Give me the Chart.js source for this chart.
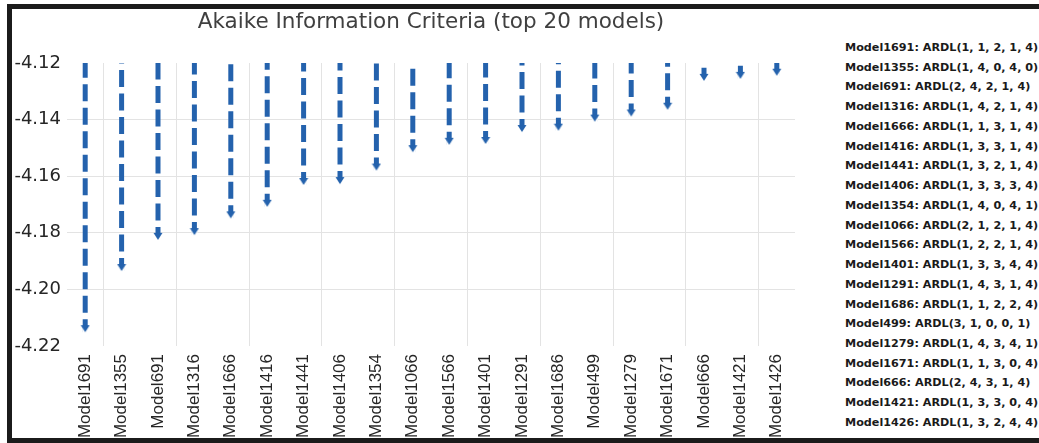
<!DOCTYPE html>
<html><head><meta charset="utf-8">
<script src="https://cdn.jsdelivr.net/npm/chart.js@4.4.1/dist/chart.umd.min.js"></script>
<style>
html,body{margin:0;padding:0;background:#fff;width:1039px;height:443px;overflow:hidden;position:relative}
#frame{position:absolute;left:7px;top:4px;width:1100px;height:429px;border:5px solid #1b1b1b;border-right:none;box-sizing:content-box}
#wrap{position:absolute;left:0;top:0;width:820px;height:443px}
#notes{position:absolute;left:845px;top:38px;font:bold 11.2px 'DejaVu Sans',sans-serif;color:#1a1a1a;line-height:19.74px;white-space:nowrap}
</style></head><body>
<div id="frame"></div>
<div id="wrap"><canvas id="c"></canvas></div>
<div id="notes"></div>
<script>
const chartTitle = 'Akaike Information Criteria (top 20 models)';
const models = ['Model1691','Model1355','Model691','Model1316','Model1666','Model1416','Model1441','Model1406','Model1354','Model1066',
                'Model1566','Model1401','Model1291','Model1686','Model499','Model1279','Model1671','Model666','Model1421','Model1426'];
const aicValues = [-4.2151,-4.1935,-4.1825,-4.1808,-4.1749,-4.1708,-4.1631,-4.1628,-4.1580,-4.1515,
                   -4.1489,-4.1486,-4.1444,-4.1439,-4.1407,-4.1389,-4.1365,-4.1263,-4.1256,-4.1245];
const ardlSpecs = ['1, 1, 2, 1, 4','1, 4, 0, 4, 0','2, 4, 2, 1, 4','1, 4, 2, 1, 4','1, 1, 3, 1, 4','1, 3, 3, 1, 4','1, 3, 2, 1, 4','1, 3, 3, 3, 4','1, 4, 0, 4, 1','2, 1, 2, 1, 4',
                   '1, 2, 2, 1, 4','1, 3, 3, 4, 4','1, 4, 3, 1, 4','1, 1, 2, 2, 4','3, 1, 0, 0, 1','1, 4, 3, 4, 1','1, 1, 3, 0, 4','2, 4, 3, 1, 4','1, 3, 3, 0, 4','1, 3, 2, 4, 4'];
const yTickValues = [-4.22,-4.20,-4.18,-4.16,-4.14,-4.12];

const BLUE = '#2462AD';
const GRID = '#e3e3e3';
const yTop = yTickValues[yTickValues.length-1];
const yBottom = yTickValues[0];

const notes = document.getElementById('notes');
models.forEach((m,i)=>{ const d=document.createElement('div'); d.textContent = m + ': ARDL(' + ardlSpecs[i] + ')'; notes.appendChild(d); });

const stemData = [];
models.forEach((m,i)=>{ stemData.push({x:m,y:aicValues[i]},{x:m,y:yTop},{x:m,y:null}); });

function makeArrow(color){
  const c=document.createElement('canvas'); c.width=10; c.height=16;
  const g=c.getContext('2d');
  g.fillStyle='#fff'; g.fillRect(2,3,6,6);
  g.fillStyle=color; g.beginPath(); g.moveTo(0.5,1); g.lineTo(9.5,1); g.lineTo(5,8); g.closePath(); g.fill();
  return c;
}
const arrow = makeArrow(BLUE);

new Chart(document.getElementById('c'), {
  type:'line',
  data:{
    labels: models,
    datasets:[
      {label:'arrows', data: aicValues, showLine:false, pointStyle: arrow, pointRadius:5, pointHoverRadius:5},
      {label:'AIC', data: stemData, borderColor: BLUE, borderWidth:5, borderDash:[17,6.5], borderDashOffset:4,
       borderCapStyle:'butt', pointRadius:0, pointHoverRadius:0, spanGaps:false, tension:0, fill:false}
    ]
  },
  options:{
    responsive:true, maintainAspectRatio:false, animation:false, events:[],
    layout:{padding:{left:12,right:25,top:0,bottom:0}},
    plugins:{
      legend:{display:false}, tooltip:{enabled:false},
      title:{display:true, text: chartTitle, fullSize:false, color:'#404040',
             font:{family:"'DejaVu Sans', sans-serif", size:21.5, weight:'normal', lineHeight:1.2},
             padding:{top:10,bottom:27.2}}
    },
    scales:{
      x:{
        type:'category', offset:true,
        grid:{offset:true, drawTicks:false, lineWidth:1, color: ctx => (ctx.index % 2 === 1) ? GRID : 'rgba(0,0,0,0)'},
        border:{display:false},
        ticks:{autoSkip:false, minRotation:90, maxRotation:90, padding:8, color:'#262626',
               font:{family:"'Liberation Sans',sans-serif", size:17}},
        afterFit: s => { s.height = 97; }
      },
      y:{
        min: yBottom, max: yTop,
        afterBuildTicks: s => { s.ticks = yTickValues.map(v=>({value:v})); },
        grid:{drawTicks:false, lineWidth:1, color: ctx => (ctx.index===0 || ctx.index===yTickValues.length-1) ? 'rgba(0,0,0,0)' : GRID},
        border:{display:false},
        ticks:{padding:6, color:'#262626', callback: v => Number(v).toFixed(2),
               font:{family:"'DejaVu Sans',sans-serif", size:18}},
        afterFit: s => { s.width = 55; }
      }
    }
  }
});
</script>
</body></html>
